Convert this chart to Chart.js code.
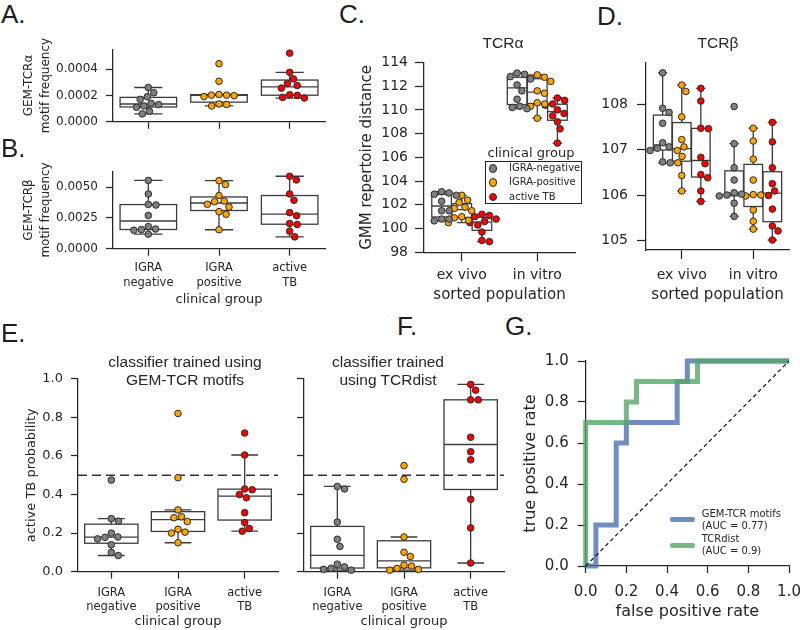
<!DOCTYPE html>
<html>
<head>
<meta charset="utf-8">
<script src="https://cdn.jsdelivr.net/npm/chart.js@4.4.0/dist/chart.umd.min.js"></script>
<style>
html, body { margin: 0; padding: 0; width: 800px; height: 630px; overflow: hidden; background: #fff; }
canvas { position: absolute; }
.txt { position: absolute; white-space: pre; color: #262626; line-height: 1; }
.ctr { transform: translate(-50%, -50%); text-align: center; }
.letter { font-family: 'Liberation Sans', Arial, sans-serif; font-size: 26px; line-height: 26px; color: #1e1e1e; }
.ttl { font-family: 'Liberation Sans', Arial, sans-serif; font-size: 15.5px; line-height: 18px; }
.dv { font-family: 'DejaVu Sans', sans-serif; }
</style>
</head>
<body>
<script>
// ---- data ----
const groups = ['IGRA-negative', 'IGRA-positive', 'active TB'];
const groupColors = ['#808080', '#FFA500', '#FF0000'];
const clinicalTicks = [['IGRA', 'negative'], ['IGRA', 'positive'], ['active', 'TB']];
const populations = ['ex vivo', 'in vitro'];

// A. GEM-TCRα motif frequency, one list per clinical group
const motifAlpha = [
  [0.00026, 0.00022, 0.00019, 0.00017, 0.00014, 0.00013, 0.00012, 0.00011, 0.00008, 0.00006],
  [0.00044, 0.000307, 0.000207, 0.000202, 0.000202, 0.000198, 0.000191, 0.000135, 0.000131, 0.00012],
  [0.00052, 0.000375, 0.000325, 0.00029, 0.000275, 0.000255, 0.000205, 0.0002, 0.000185, 0.00018]
];
const motifAlphaTicks = [0, 0.0002, 0.0004];

// B. GEM-TCRβ motif frequency
const motifBeta = [
  [0.00555, 0.00445, 0.0036, 0.00355, 0.0027, 0.0018, 0.0016, 0.00155, 0.0015, 0.00118],
  [0.00553, 0.00521, 0.00432, 0.00387, 0.00382, 0.00361, 0.00339, 0.00301, 0.0028, 0.00154],
  [0.00589, 0.00559, 0.00445, 0.00394, 0.00293, 0.00268, 0.00205, 0.00197, 0.00142, 0.00096]
];
const motifBetaTicks = [0, 0.0025, 0.005];

// C. TCRα GMM repertoire distance [group][population]
const tcrAlpha = [
  [[103.1, 103.0, 102.9, 102.8, 102.3, 101.5, 101.5, 100.8, 100.8, 100.65],
   [113.1, 113.0, 112.8, 112.6, 112.1, 111.6, 110.9, 110.3, 110.2, 110.1]],
  [[102.8, 102.4, 102.2, 101.8, 101.7, 101.5, 101.0, 100.9, 100.7, 100.5],
   [112.95, 112.75, 112.7, 112.4, 111.6, 111.4, 110.6, 110.5, 110.3, 109.3]],
  [[101.2, 101.1, 101.0, 100.8, 100.6, 100.5, 100.3, 99.7, 99.0, 98.9],
   [111.0, 110.8, 110.5, 110.4, 110.0, 109.7, 109.5, 109.0, 108.4, 107.2]]
];
const tcrAlphaTicks = [98, 100, 102, 104, 106, 108, 110, 112, 114];

// D. TCRβ GMM repertoire distance [group][population]
const tcrBeta = [
  [[108.69, 107.91, 107.82, 107.58, 107.15, 107.06, 107.03, 106.98, 106.73, 106.71],
   [107.95, 107.13, 106.6, 106.33, 106.05, 106.02, 106.0, 105.98, 105.82, 105.53]],
  [[108.42, 108.28, 107.72, 107.22, 107.06, 106.98, 106.85, 106.71, 106.43, 106.09],
   [107.47, 107.19, 106.79, 106.33, 106.01, 106.0, 105.98, 105.67, 105.42, 105.25]],
  [[108.35, 108.07, 107.47, 107.46, 106.83, 106.69, 106.45, 106.38, 106.09, 105.86],
   [107.6, 107.17, 106.6, 106.25, 106.09, 105.99, 105.69, 105.32, 105.21, 105.01]]
];
const tcrBetaTicks = [105, 106, 107, 108];

// E. / F. active TB probability
const probMotifs = [
  [0.475, 0.275, 0.262, 0.2, 0.18, 0.178, 0.17, 0.14, 0.1, 0.084],
  [0.82, 0.487, 0.32, 0.285, 0.28, 0.26, 0.22, 0.205, 0.2, 0.15],
  [0.719, 0.605, 0.429, 0.425, 0.4, 0.383, 0.306, 0.255, 0.224, 0.21]
];
const probTcrdist = [
  [0.442, 0.429, 0.257, 0.168, 0.131, 0.039, 0.025, 0.017, 0.012, 0.008],
  [0.55, 0.479, 0.18, 0.101, 0.079, 0.034, 0.029, 0.017, 0.012, 0.008],
  [0.971, 0.941, 0.891, 0.891, 0.697, 0.622, 0.58, 0.375, 0.227, 0.045]
];
const probTicks = [0, 0.2, 0.4, 0.6, 0.8, 1.0];
const threshold = 0.5;

// G. ROC curves
const rocNames = ['GEM-TCR motifs', 'TCRdist'];
const rocColors = ['rgba(76,114,176,0.8)', 'rgba(85,168,104,0.8)'];
const motifsFpr = [0, 0.05, 0.05, 0.15, 0.15, 0.2, 0.2, 0.45, 0.45, 0.5, 0.5, 1];
const motifsTpr = [0, 0, 0.2, 0.2, 0.6, 0.6, 0.7, 0.7, 0.9, 0.9, 1, 1];
const tcrdistFpr = [0, 0, 0.2, 0.2, 0.25, 0.25, 0.55, 0.55, 1];
const tcrdistTpr = [0, 0.7, 0.7, 0.8, 0.8, 0.9, 0.9, 1, 1];
const diagonal = [0, 1];
const rateTicks = [0, 0.2, 0.4, 0.6, 0.8, 1.0];

// ---- helpers ----
Chart.defaults.font.family = "'DejaVu Sans', sans-serif";
Chart.defaults.color = '#262626';
const INK = '#262626';

function quantile(s, p) {
  const pos = (s.length - 1) * p, lo = Math.floor(pos), hi = Math.ceil(pos);
  return s[lo] + (s[hi] - s[lo]) * (pos - lo);
}
function boxStats(values) {
  const s = values.slice().sort((a, b) => a - b);
  const q1 = quantile(s, 0.25), q3 = quantile(s, 0.75), med = quantile(s, 0.5);
  const iqr = q3 - q1;
  const lo = Math.min(...s.filter(v => v >= q1 - 1.5 * iqr));
  const hi = Math.max(...s.filter(v => v <= q3 + 1.5 * iqr));
  return {q1, q3, med, lo, hi};
}

function axis(o) {
  return {
    type: 'linear', min: o.min, max: o.max,
    afterBuildTicks: s => { s.ticks = o.ticks.map(v => ({value: v})); },
    afterFit: s => { if (o.horizontal) s.height = o.dim; else s.width = o.dim; },
    ticks: {
      autoSkip: false, maxRotation: 0, minRotation: 0, padding: o.pad, color: INK,
      font: {size: o.size, lineHeight: o.lh || 1.2},
      callback: (v, i) => o.labels ? o.labels[i] : (o.fmt != null ? Number(v).toFixed(o.fmt) : '')
    },
    grid: {drawOnChartArea: false, drawTicks: true, tickLength: o.tl, tickWidth: 1.25, tickColor: INK},
    border: {display: true, color: INK, width: 1.25},
    title: o.title ? {
      display: true, text: o.title, color: INK,
      font: {size: o.titleSize, lineHeight: o.titleLH || 1.2},
      padding: o.horizontal ? {top: 0, bottom: o.titlePad} : {top: o.titlePad, bottom: 0}
    } : {display: false}
  };
}

function makePanel(p) {
  const [bx, by, bw, bh] = p.box, [al, at, ar, ab] = p.area;
  const cv = document.createElement('canvas');
  cv.width = bw; cv.height = bh;
  cv.style.left = bx + 'px'; cv.style.top = by + 'px';
  document.body.appendChild(cv);
  p.x.horizontal = true; p.x.dim = by + bh - ab;
  p.y.dim = al - bx;
  return new Chart(cv, {
    type: 'scatter',
    data: {datasets: p.datasets},
    options: {
      responsive: false, animation: false, events: [],
      layout: {autoPadding: false, padding: {left: 0, top: at - by, right: bx + bw - ar, bottom: 0}},
      plugins: {legend: {display: false}, tooltip: {enabled: false}},
      scales: {x: axis(p.x), y: axis(p.y)}
    },
    plugins: p.plugins || []
  });
}

function boxPlugin(list, thr) {
  return {
    id: 'boxes',
    beforeDatasetsDraw(chart) {
      const {ctx, chartArea} = chart, xs = chart.scales.x, ys = chart.scales.y;
      ctx.save();
      ctx.lineWidth = 1.3; ctx.strokeStyle = '#3c3c3c';
      list.forEach(b => {
        const s = boxStats(b.values);
        const cx = xs.getPixelForValue(b.center);
        const hw = xs.getPixelForValue(b.center + b.width / 2) - cx;
        const y1 = ys.getPixelForValue(s.q1), y3 = ys.getPixelForValue(s.q3);
        const ym = ys.getPixelForValue(s.med);
        const ylo = ys.getPixelForValue(s.lo), yhi = ys.getPixelForValue(s.hi);
        ctx.fillStyle = '#fff';
        ctx.fillRect(cx - hw, y3, 2 * hw, y1 - y3);
        ctx.strokeRect(cx - hw, y3, 2 * hw, y1 - y3);
        ctx.beginPath();
        ctx.moveTo(cx - hw, ym); ctx.lineTo(cx + hw, ym);
        ctx.moveTo(cx, y3); ctx.lineTo(cx, yhi);
        ctx.moveTo(cx, y1); ctx.lineTo(cx, ylo);
        ctx.moveTo(cx - hw / 2, yhi); ctx.lineTo(cx + hw / 2, yhi);
        ctx.moveTo(cx - hw / 2, ylo); ctx.lineTo(cx + hw / 2, ylo);
        ctx.stroke();
      });
      if (thr != null) {
        const yt = ys.getPixelForValue(thr);
        ctx.setLineDash([9, 5]); ctx.lineWidth = 1.5; ctx.strokeStyle = '#333';
        ctx.beginPath(); ctx.moveTo(chartArea.left, yt); ctx.lineTo(chartArea.right, yt); ctx.stroke();
      }
      ctx.restore();
    }
  };
}

function pointSets(series) {
  return series.map(s => ({
    label: s.label,
    data: s.cats.flatMap(c => c.values.map(v => ({x: c.center, y: v, cx: c.center}))),
    backgroundColor: s.color, borderColor: '#2a2a2a', borderWidth: 1,
    pointRadius: 3.3, clip: false
  }));
}

// seaborn-like swarm: place each point at the free position closest to its centre
function swarmOffsets(ys, d) {
  const order = ys.map((y, i) => i).sort((a, b) => ys[a] - ys[b]);
  const placed = [], off = new Array(ys.length);
  order.forEach(i => {
    const y = ys[i], cands = [0];
    placed.forEach(p => {
      const dy = Math.abs(p.y - y);
      if (dy < d) { const dx = Math.sqrt(d * d - dy * dy); cands.push(p.x + dx, p.x - dx); }
    });
    cands.sort((a, b) => Math.abs(a) - Math.abs(b));
    let best = cands.find(c => placed.every(p => (p.x - c) ** 2 + (p.y - y) ** 2 >= d * d - 0.01));
    if (best === undefined) best = 0;
    placed.push({x: best, y}); off[i] = best;
  });
  return off;
}
function applySwarm(chart, d) {
  const xs = chart.scales.x, ys = chart.scales.y;
  const unit = xs.getPixelForValue(1) - xs.getPixelForValue(0);
  chart.data.datasets.forEach(ds => {
    const byC = new Map();
    ds.data.forEach(pt => { if (!byC.has(pt.cx)) byC.set(pt.cx, []); byC.get(pt.cx).push(pt); });
    const out = [];
    byC.forEach(pts => {
      const off = swarmOffsets(pts.map(pt => ys.getPixelForValue(pt.y)), d);
      pts.forEach((pt, i) => out.push({x: pt.cx + off[i] / unit, y: pt.y, cx: pt.cx}));
    });
    ds.data = out;
  });
  chart.update('none');
}

function clinicalSeries(values) {
  return groups.map((g, i) => ({label: g, color: groupColors[i], cats: [{center: i, values: values[i]}]}));
}
function populationSeries(values) {
  const dodge = 0.267;
  return groups.map((g, i) => ({
    label: g, color: groupColors[i],
    cats: populations.map((p, c) => ({center: c + (i - 1) * dodge, values: values[i][c]}))
  }));
}
function boxPanel(p, series, boxW, thr) {
  p.datasets = pointSets(series);
  p.plugins = [boxPlugin(series.flatMap(s => s.cats.map(c => ({center: c.center, values: c.values, width: boxW}))), thr)];
  const ch = makePanel(p);
  applySwarm(ch, 7.6);
  return ch;
}

function text(str, x, y, cls, style) {
  const d = document.createElement('div');
  d.className = 'txt ' + cls;
  d.textContent = str;
  d.style.left = x + 'px'; d.style.top = y + 'px';
  if (style) Object.assign(d.style, style);
  document.body.appendChild(d);
  return d;
}

// ---- panels ----
const clinX = {min: -0.5, max: 2.5, ticks: [0, 1, 2], size: 11.5, lh: 1.25, tl: 7};

// A
boxPanel({
  box: [0, 34, 340, 103], area: [113, 44, 325, 127],
  x: Object.assign({}, clinX, {pad: 5}),
  y: {min: 0, max: 0.00055, ticks: motifAlphaTicks, fmt: 4, size: 12, tl: 7, pad: 8,
      title: ['GEM-TCRα', 'motif frequency'], titleSize: 12, titleLH: 1.4, titlePad: 20.6}
}, clinicalSeries(motifAlpha), 0.8);

// B
boxPanel({
  box: [0, 156, 340, 154], area: [113, 166, 325, 248.7],
  x: Object.assign({}, clinX, {labels: clinicalTicks, pad: 5.4, title: 'clinical group', titleSize: 13, titlePad: 2.9}),
  y: {min: 0, max: 0.0063, ticks: motifBetaTicks, fmt: 4, size: 12, tl: 7, pad: 8,
      title: ['GEM-TCRβ', 'motif frequency'], titleSize: 12, titleLH: 1.4, titlePad: 20.6}
}, clinicalSeries(motifBeta), 0.8);

// C
boxPanel({
  box: [350, 47, 240, 263], area: [424, 57.3, 575, 252.3],
  x: {min: -0.5, max: 1.5, ticks: [0, 1], labels: populations, size: 14, tl: 9, pad: 5.3,
      title: 'sorted population', titleSize: 15, titlePad: 6},
  y: {min: 98, max: 114, ticks: tcrAlphaTicks, fmt: 0, size: 14, tl: 9, pad: 7,
      title: 'GMM repertoire distance', titleSize: 15, titlePad: 8.5}
}, populationSeries(tcrAlpha), 0.26);

// D
boxPanel({
  box: [600, 45, 210, 265], area: [646, 55, 789, 250],
  x: {min: -0.5, max: 1.5, ticks: [0, 1], labels: populations, size: 14, tl: 9, pad: 7.6,
      title: 'sorted population', titleSize: 15, titlePad: 6},
  y: {min: 104.79, max: 108.92, ticks: tcrBetaTicks, fmt: 0, size: 14, tl: 9, pad: 9}
}, populationSeries(tcrBeta), 0.26);

// E
boxPanel({
  box: [0, 363, 290, 267], area: [78, 373.3, 278, 571.7],
  x: Object.assign({}, clinX, {labels: clinicalTicks, pad: 6.8, title: 'clinical group', titleSize: 13, titlePad: 0.5}),
  y: {min: 0, max: 1, ticks: probTicks, fmt: 1, size: 13, tl: 7, pad: 8,
      title: 'active TB probability', titleSize: 13, titlePad: 23.9}
}, clinicalSeries(probMotifs), 0.8, threshold);

// F
boxPanel({
  box: [290, 363, 230, 267], area: [304, 373.3, 504, 571.7],
  x: Object.assign({}, clinX, {labels: clinicalTicks, pad: 6.8, title: 'clinical group', titleSize: 13, titlePad: 0.5}),
  y: {min: 0, max: 1, ticks: probTicks, size: 13, tl: 7, pad: 8}
}, clinicalSeries(probTcrdist), 0.8, threshold);

// G
function auc(x, y) {
  let a = 0;
  for (let i = 1; i < x.length; i++) a += (x[i] - x[i - 1]) * (y[i] + y[i - 1]) / 2;
  return Math.round(a * 100) / 100;
}
const rocCurves = [[motifsFpr, motifsTpr], [tcrdistFpr, tcrdistTpr]];
makePanel({
  box: [515, 343, 300, 287], area: [585.7, 353.3, 789, 566],
  x: {min: 0, max: 1, ticks: rateTicks, fmt: 1, size: 15, tl: 7, pad: 9.7,
      title: 'false positive rate', titleSize: 16, titlePad: 8.7},
  y: {min: 0, max: 1, ticks: rateTicks, fmt: 1, size: 15, tl: 8, pad: 9,
      title: 'true positive rate', titleSize: 16, titlePad: 6.4},
  datasets: rocCurves.map((c, i) => ({
    label: rocNames[i],
    data: c[0].map((x, k) => ({x, y: c[1][k]})),
    showLine: true, borderColor: rocColors[i], borderWidth: 5, pointRadius: 0,
    fill: false, clip: false, order: 2 - i
  })).concat([{
    label: 'chance', data: diagonal.map(v => ({x: v, y: v})),
    showLine: true, borderColor: '#111', borderWidth: 1.2, borderDash: [4, 3],
    pointRadius: 0, clip: false, order: 0
  }])
});

// ---- titles, letters, legends ----
[['A.', 1, 1], ['B.', 1, 135], ['C.', 339, 1], ['D.', 597, 3],
 ['E.', 1, 320], ['F.', 397, 313], ['G.', 505, 313]].forEach(l => text(l[0], l[1], l[2], 'letter'));

text('TCRα', 503, 43, 'ttl ctr');
text('TCRβ', 718, 43, 'ttl ctr');
text('classifier trained using\nGEM-TCR motifs', 185, 371, 'ttl ctr');
text('classifier trained\nusing TCRdist', 388, 371, 'ttl ctr');

// C legend
text('clinical group', 531, 152, 'dv ctr', {fontSize: '13px'});
const lbox = document.createElement('div');
Object.assign(lbox.style, {position: 'absolute', left: '485px', top: '161px', width: '95px', height: '41px',
  border: '1px solid #222', background: '#fff'});
document.body.appendChild(lbox);
groups.forEach((g, i) => {
  const cy = 168 + i * 14.3;
  const dot = document.createElement('div');
  Object.assign(dot.style, {position: 'absolute', left: (492.7 - 4) + 'px', top: (cy - 4) + 'px', width: '6.6px', height: '6.6px',
    borderRadius: '50%', background: groupColors[i], border: '1px solid #2a2a2a'});
  document.body.appendChild(dot);
  text(g, 509, cy, 'dv', {fontSize: '10px', transform: 'translateY(-50%)'});
});

// G legend
rocNames.forEach((n, i) => {
  const cy = 519.5 + i * 25.5;
  const ln = document.createElement('div');
  Object.assign(ln.style, {position: 'absolute', left: '670px', top: (cy - 2.5) + 'px', width: '25px', height: '5px',
    background: rocColors[i], borderRadius: '2px'});
  document.body.appendChild(ln);
  const c = rocCurves[i];
  text(n + '\n(AUC = ' + auc(c[0], c[1]) + ')', 701.7, cy, 'dv', {fontSize: '10px', lineHeight: '12px', transform: 'translateY(-50%)'});
});
</script>
</body>
</html>
